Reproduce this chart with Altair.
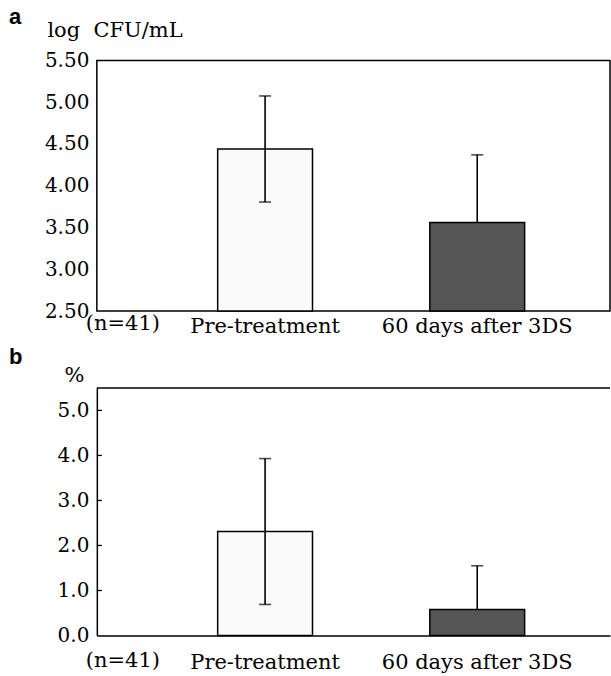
import altair as alt
import pandas as pd

categories = ["Pre-treatment", "60 days after 3DS"]
cfu_mean = [4.44, 3.56]
cfu_sd = [0.635, 0.81]
pct_mean = [2.31, 0.58]
pct_sd = [1.62, 0.97]
lower_shown = [True, False]
bar_colors = ["#fafafa", "#555555"]
cfu_ticks = [2.5, 3.0, 3.5, 4.0, 4.5, 5.0, 5.5]
pct_ticks = [0.0, 1.0, 2.0, 3.0, 4.0, 5.0]
n_label = "(n=41)"

SERIF = "DejaVu Serif"
SANS = "Liberation Sans"
W = 514


def frame(means, sds, base):
    rows = []
    for c, m, s, low, col in zip(categories, means, sds, lower_shown, bar_colors):
        rows.append({"cat": c, "mean": m, "hi": m + s, "lo": (m - s) if low else m,
                     "col": col, "low": low, "base": base})
    return pd.DataFrame(rows)


def panel(means, sds, ydomain, yticks, fmt, ytitle, letter, H, title_x, title_y,
          letter_y, label_pad, n_y, boxed):
    df = frame(means, sds, ydomain[0])
    xscale = alt.Scale(domain=categories, paddingInner=0.553, paddingOuter=0.486, align=0.586)
    yscale = alt.Scale(domain=ydomain, nice=False, zero=False)
    x = alt.X("cat:N", scale=xscale, sort=categories,
              axis=alt.Axis(title=None, labelAngle=0, labelFont=SERIF, labelFontSize=21,
                            labelColor="black", labelLimit=0, domain=not boxed,
                            domainColor="black", domainWidth=1.5, ticks=False, tickSize=0,
                            labelPadding=label_pad))
    y = alt.Y("mean:Q", scale=yscale,
              axis=alt.Axis(values=yticks, format=fmt, title=ytitle, titleAngle=0,
                            titleAlign="left", titleBaseline="alphabetic", titleX=title_x,
                            titleY=title_y, titleFont=SERIF, titleFontSize=21,
                            titleFontWeight="normal", titleColor="black", labelFont=SERIF,
                            labelFontSize=20, labelColor="black", domain=not boxed,
                            domainColor="black", domainWidth=1.5, ticks=False, tickSize=0,
                            grid=False, labelPadding=8))
    base = alt.Chart(df)
    bars = base.mark_bar(stroke="black", strokeWidth=1.5).encode(
        x=x, y=y, y2="base:Q",
        fill=alt.Fill("col:N", scale=None))
    err = base.mark_rule(color="black", strokeWidth=1.6).encode(
        x=alt.X("cat:N", scale=xscale, sort=categories),
        y=alt.Y("lo:Q", scale=yscale), y2="hi:Q")
    cap_hi = base.mark_tick(color="black", thickness=1.6, size=12, orient="horizontal").encode(
        x=alt.X("cat:N", scale=xscale, sort=categories),
        y=alt.Y("hi:Q", scale=yscale))
    cap_lo = base.transform_filter("datum.low").mark_tick(
        color="black", thickness=1.6, size=12, orient="horizontal").encode(
        x=alt.X("cat:N", scale=xscale, sort=categories),
        y=alt.Y("lo:Q", scale=yscale))
    letter_txt = alt.Chart(pd.DataFrame({"t": [letter]})).mark_text(
        font=SANS, fontWeight="bold", fontSize=22, align="left", baseline="alphabetic",
        color="black").encode(text="t:N", x=alt.value(-88), y=alt.value(letter_y))
    n_txt = alt.Chart(pd.DataFrame({"t": [n_label]})).mark_text(
        font=SERIF, fontSize=21, align="left", baseline="alphabetic",
        color="black").encode(text="t:N", x=alt.value(-11), y=alt.value(H + n_y))
    layers = [bars, err, cap_hi, cap_lo, letter_txt, n_txt]
    if not boxed:
        tick_df = pd.DataFrame({"v": [v for v in yticks if v > ydomain[0]]})
        inner_ticks = alt.Chart(tick_df).mark_rule(color="black", strokeWidth=1.3).encode(
            y=alt.Y("v:Q", scale=yscale), x=alt.value(0), x2=alt.value(5))
        top_line = alt.Chart(pd.DataFrame({"t": [0]})).mark_rule(
            color="black", strokeWidth=1.5).encode(
            y=alt.value(0), x=alt.value(0), x2=alt.value(W))
        layers += [inner_ticks, top_line]
    ch = alt.layer(*layers).properties(width=W, height=H)
    if boxed:
        ch = ch.properties(view=alt.ViewBackground(stroke="black", strokeWidth=1.5))
    else:
        ch = ch.properties(view=alt.ViewBackground(stroke=None))
    return ch


panel_a = panel(cfu_mean, cfu_sd, [2.5, 5.5], cfu_ticks, ".2f", "log\u00a0\u00a0CFU/mL", "a",
                251, -50, -24, -37, 4, 19, True)
panel_b = panel(pct_mean, pct_sd, [0.0, 5.5], pct_ticks, ".1f", "%", "b",
                248, -33, -6, -24, 16, 32, False)

chart = alt.vconcat(panel_a, panel_b, spacing=77, bounds="flush").configure(
    padding={"left": 8, "top": 4, "right": 0, "bottom": 0},
    background="white"
)

chart.save("out.html", embed_options={"renderer": "svg", "actions": False})
